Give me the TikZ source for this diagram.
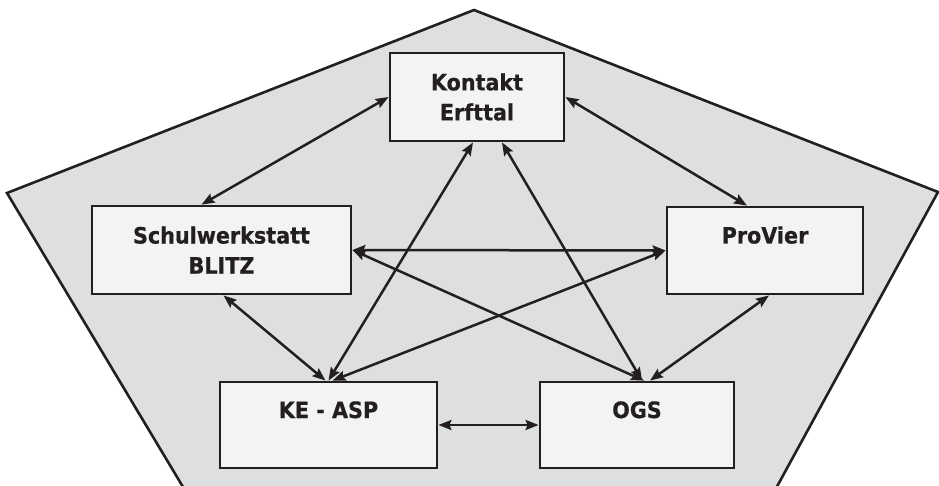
\documentclass[tikz,border=0pt]{standalone}
\usepackage{fontspec}
\setmainfont[FakeStretch=0.92, BoldFeatures={FakeBold=0.6}]{DejaVu Sans}
\usepackage{tikz}
\usetikzlibrary{arrows.meta}
\usepackage{xcolor}

\definecolor{panelgray}{RGB}{222,223,225}
\definecolor{boxfill}{RGB}{243,243,243}
\definecolor{inkdark}{RGB}{35,31,32}

\tikzset{
    partner/.style={draw=inkdark, fill=boxfill, line width=2.8pt, inner sep=0pt,
        align=center, text=inkdark, font=\bfseries\fontsize{22.5}{30}\selectfont},
    oneline/.style={partner, text height=16pt, text depth=30pt},
    link/.style={<->, draw=inkdark, line width=2.5pt}
}

\begin{document}
\begin{tikzpicture}[x=1pt, y=-1pt, >={Stealth[length=13pt,width=10pt,inset=2pt]}]
    \useasboundingbox (0,0) rectangle (939,486);

    % Network area
    \fill[panelgray] (184,490) -- (7,193) -- (474,10) -- (938,192) -- (776,490) -- cycle;
    \draw[inkdark, line width=2.6pt, line join=miter]
        (186,492) -- (7,193) -- (474,10) -- (938,192) -- (774,492);

    % Partners
    \node[partner, minimum width=174pt, minimum height=88pt] (kontakt) at (477,97) {Kontakt\\Erfttal};
    \node[partner, minimum width=259pt, minimum height=88pt] (schul) at (221.5,250) {Schulwerkstatt\\BLITZ};
    \node[oneline, minimum width=196pt, minimum height=87pt] (provier) at (765,250.5) {ProVier};
    \node[oneline, minimum width=217pt, minimum height=86pt] (keasp) at (328.5,425) {KE - ASP};
    \node[oneline, minimum width=194pt, minimum height=86pt] (ogs) at (637,425) {OGS};

    % Outer links
    \draw[link] (kontakt.west) -- ([xshift=-20pt]schul.north);
    \draw[link] (kontakt.east) -- ([xshift=-18pt]provier.north);
    \draw[link] ([xshift=2pt]schul.south) -- ([xshift=-3pt]keasp.north);
    \draw[link] ([xshift=4pt]provier.south) -- ([xshift=13pt]ogs.north);
    \draw[link] (keasp.east) -- (ogs.west);

    % Inner links
    \draw[link] (schul.east) -- (provier.west);
    \draw[link] (schul.east) -- ([xshift=7pt]ogs.north);
    \draw[link] (provier.west) -- ([xshift=4pt]keasp.north);
    \draw[link] ([xshift=-4pt]kontakt.south) -- (keasp.north);
    \draw[link] ([xshift=25pt]kontakt.south) -- ([xshift=5pt]ogs.north);
\end{tikzpicture}
\end{document}
